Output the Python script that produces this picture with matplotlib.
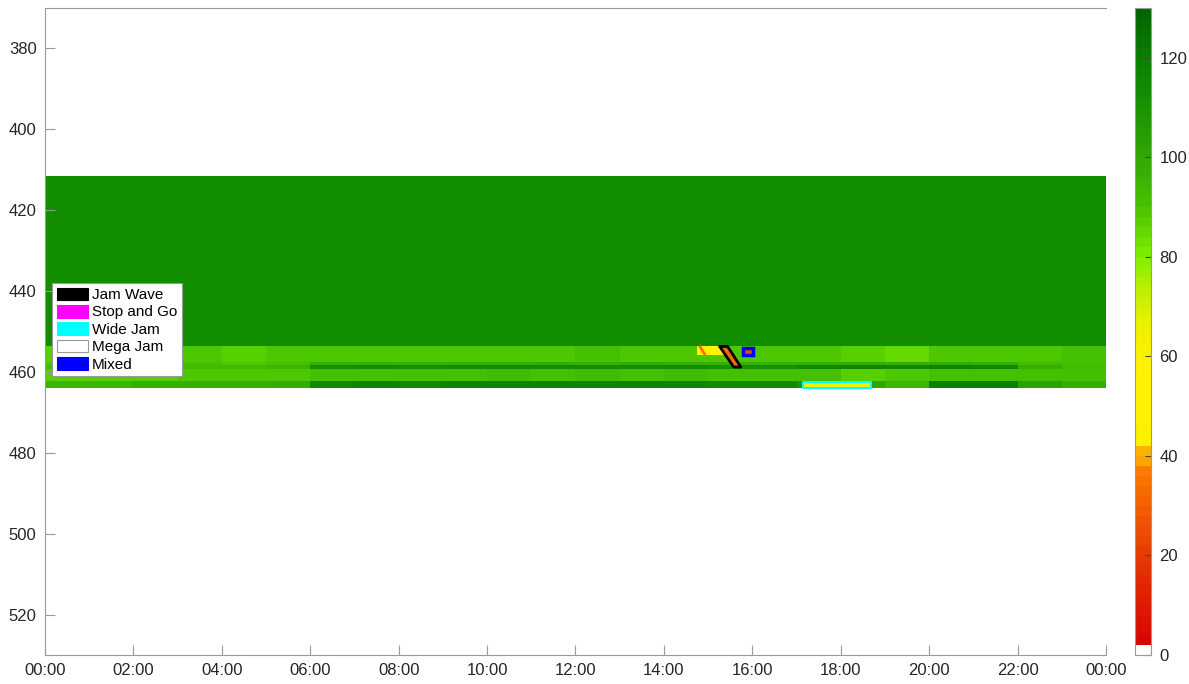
import numpy as np
import matplotlib
matplotlib.use("Agg")
import matplotlib.pyplot as plt
from matplotlib.colors import ListedColormap, LinearSegmentedColormap, BoundaryNorm
from matplotlib.patches import Patch, Polygon

plt.rcParams["font.family"] = ["Liberation Sans", "DejaVu Sans"]

# speed colour scale (km/h)
cb_anchor_v = [0, 10, 20, 30, 38, 39, 41.9, 42, 60, 66, 72, 80, 90, 100, 112, 120, 130]
cb_anchor_c = ["#d40000", "#dc1c00", "#e43c00", "#f06000", "#ff8000", "#ffb000", "#ffb000",
               "#fff000", "#fff200", "#eef000", "#c8f000", "#80f000", "#48c400", "#30a800",
               "#148f00", "#0a8000", "#006400"]

# section A: free-flowing stretch, uniform speed
upper_km = [411.5, 453.5]
upper_speed = 112

# section B: hourly speeds in five sub-strips
lower_km = [453.5, 457.5, 458.4, 459.4, 462.3, 464.0]
hours = np.arange(0, 25)
lower_speed = [
    # 453.5 - 457.5
    [87, 87, 87, 88, 87, 88, 88, 89, 88, 89, 89, 89, 90, 89, 89, 89, 88, 89, 86, 84, 88, 88, 89, 90],
    # 457.5 - 458.4
    [89, 89, 89, 90, 89, 90, 96, 97, 96, 97, 97, 98, 97, 98, 97, 96, 96, 97, 99, 97, 98, 97, 92, 90],
    # 458.4 - 459.4
    [92, 92, 92, 93, 92, 94, 110, 112, 111, 113, 112, 113, 112, 113, 113, 111, 110, 115, 117, 115, 116, 115, 96, 92],
    # 459.4 - 462.3
    [87, 86, 87, 88, 88, 89, 90, 91, 90, 91, 92, 91, 92, 91, 92, 90, 90, 90, 87, 89, 90, 90, 90, 90],
    # 462.3 - 464.0
    [94, 95, 96, 96, 97, 98, 114, 116, 115, 116, 117, 116, 117, 116, 117, 115, 114, 108, 100, 94, 118, 119, 102, 96],
]

# congestion cells and outlined patterns
slow_t = [14.75, 15.35]
slow_km = [453.6, 455.9]
slow_speed = 55
slow_line_t = [14.82, 14.92]
slow_line_km = [453.8, 455.6]

jam_wave_t = [15.26, 15.44, 15.74, 15.58]
jam_wave_km = [453.7, 453.7, 458.8, 458.8]
jam_wave_speed = 32

mixed_t = [15.80, 16.02]
mixed_km = [454.1, 455.7]
mixed_speed = 25

wide_t = [17.15, 18.68]
wide_km = [462.6, 463.9]
wide_speed = 62

tick_hours = list(range(0, 25, 2))
tick_labels = ["00:00", "02:00", "04:00", "06:00", "08:00", "10:00", "12:00",
               "14:00", "16:00", "18:00", "20:00", "22:00", "00:00"]
y_ticks = [380, 400, 420, 440, 460, 480, 500, 520]

legend_names = ["Jam Wave", "Stop and Go", "Wide Jam", "Mega Jam", "Mixed"]
legend_colors = ["black", "#ff00ff", "#00ffff", "white", "#0000ff"]

# stepped colormap, 2 km/h per step, first step white
smooth = LinearSegmentedColormap.from_list(
    "speed", [(v / 130, c) for v, c in zip(cb_anchor_v, cb_anchor_c)])
levels = np.arange(0, 131, 2)
mids = (levels[:-1] + levels[1:]) / 2
cols = [smooth(m / 130) for m in mids]
cols[0] = (1, 1, 1, 1)
cmap = ListedColormap(cols)
norm = BoundaryNorm(levels, cmap.N)

fig = plt.figure(figsize=(11.89, 6.84), dpi=100)
ax = fig.add_axes([0.0378, 0.0424, 0.8924, 0.946])
cax = fig.add_axes([0.9546, 0.0424, 0.0135, 0.946])

ax.pcolormesh([0, 24], upper_km, [[upper_speed]], cmap=cmap, norm=norm)
mesh = ax.pcolormesh(hours, lower_km, np.array(lower_speed), cmap=cmap, norm=norm,
                     shading="flat")

ax.fill([slow_t[0], slow_t[1], slow_t[1], slow_t[0]],
        [slow_km[0], slow_km[0], slow_km[1], slow_km[1]],
        color=cmap(norm(slow_speed)), lw=0)
ax.plot(slow_line_t, slow_line_km, color=cmap(norm(34)), lw=2)

ax.add_patch(Polygon(list(zip(jam_wave_t, jam_wave_km)), closed=True,
                     facecolor=cmap(norm(jam_wave_speed)), edgecolor="black", lw=2,
                     joinstyle="round"))
ax.add_patch(Polygon([(mixed_t[0], mixed_km[0]), (mixed_t[1], mixed_km[0]),
                      (mixed_t[1], mixed_km[1]), (mixed_t[0], mixed_km[1])],
                     closed=True, facecolor=cmap(norm(mixed_speed)), edgecolor="#0000ff",
                     lw=2.5))
ax.add_patch(Polygon([(wide_t[0], wide_km[0]), (wide_t[1], wide_km[0]),
                      (wide_t[1], wide_km[1]), (wide_t[0], wide_km[1])],
                     closed=True, facecolor=cmap(norm(wide_speed)), edgecolor="#00ffff",
                     lw=1.5, joinstyle="round"))

ax.set_xlim(0, 24)
ax.set_ylim(530, 370)
ax.set_xticks(tick_hours)
ax.set_xticklabels(tick_labels)
ax.set_yticks(y_ticks)
ax.tick_params(direction="in", length=7, width=0.8, color="#999999",
               labelsize=12, labelcolor="#262626", pad=6)
for side in ["left", "bottom", "top"]:
    ax.spines[side].set_color("#999999")
    ax.spines[side].set_linewidth(0.8)
ax.spines["right"].set_visible(False)

handles = [Patch(facecolor=c, edgecolor="#999999" if n == "Mega Jam" else c, lw=0.8)
           for n, c in zip(legend_names, legend_colors)]
leg = ax.legend(handles, legend_names, loc="upper left", bbox_to_anchor=(0.007, 0.575),
                fontsize=11, fancybox=False, framealpha=1, edgecolor="#999999",
                handlelength=2.0, handleheight=0.9, labelspacing=0.18,
                borderpad=0.3, handletextpad=0.3, borderaxespad=0)
leg.get_frame().set_linewidth(0.8)

cb = fig.colorbar(mesh, cax=cax, ticks=[0, 20, 40, 60, 80, 100, 120])
cb.outline.set_edgecolor("#999999")
cb.outline.set_linewidth(0.8)
cax.minorticks_off()
cax.tick_params(direction="in", length=4, width=0.8, color="#444444",
                labelsize=12, labelcolor="#262626", pad=6)

fig.savefig("out.png", dpi=100)
